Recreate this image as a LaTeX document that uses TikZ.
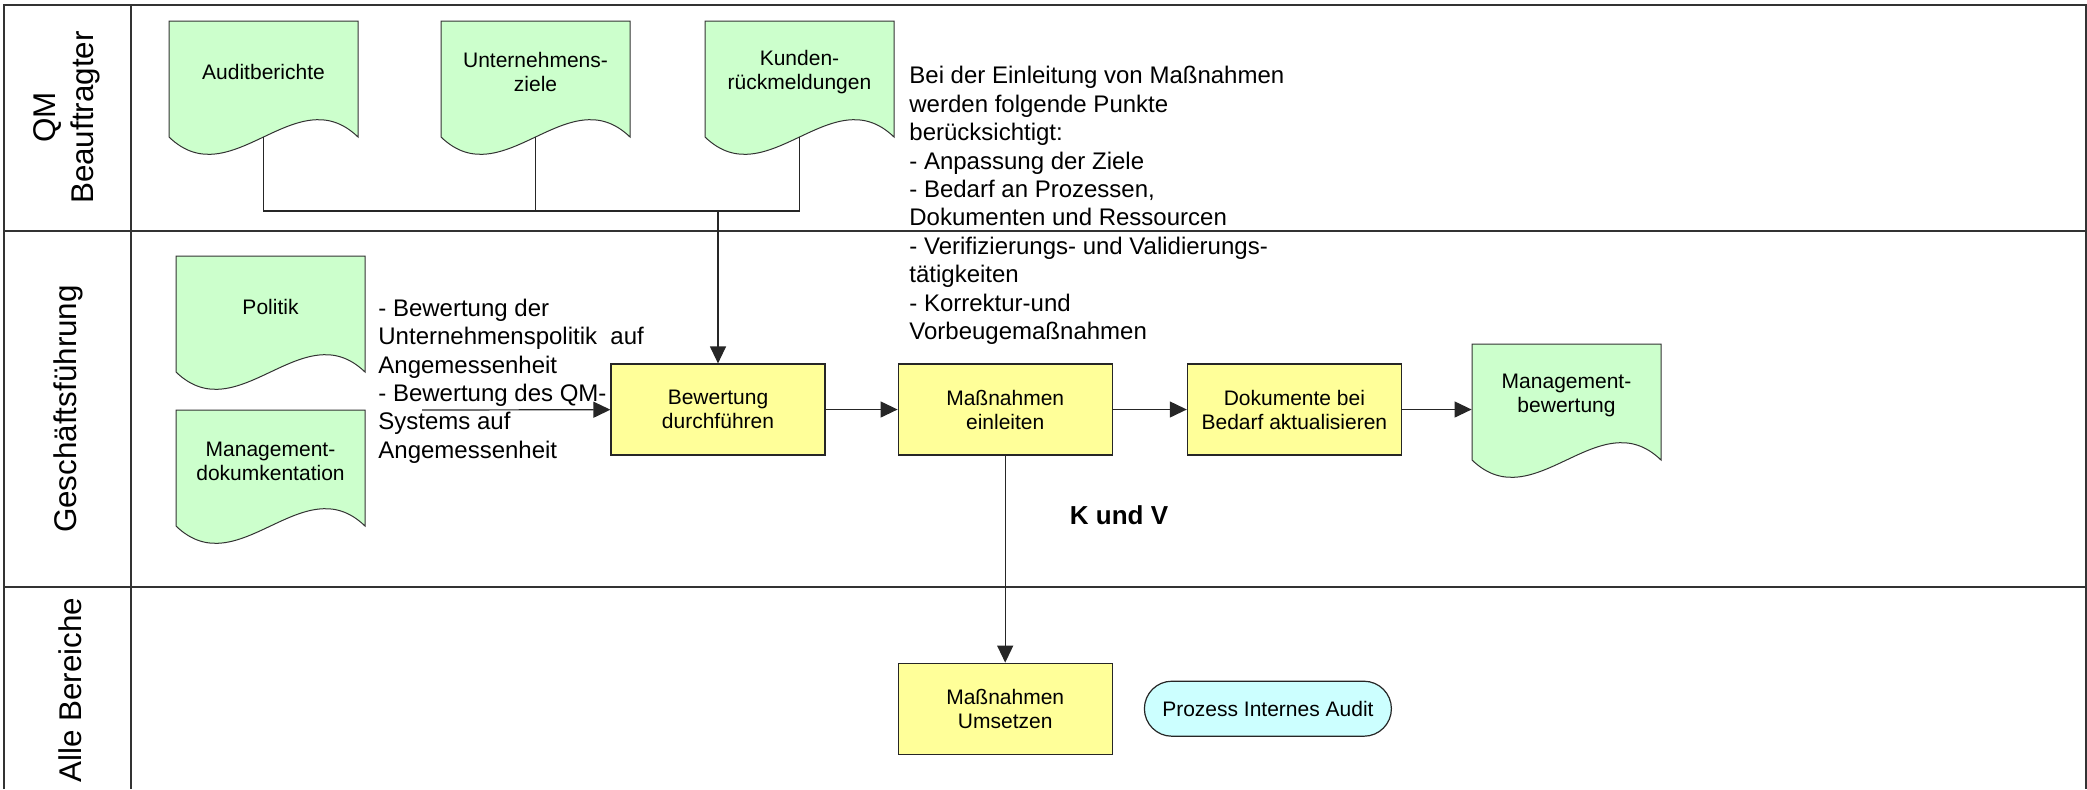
\documentclass[tikz,border=0pt]{standalone}
\usepackage{fontspec}
\setmainfont{Liberation Sans}
\usetikzlibrary{arrows.meta,calc,positioning}
\definecolor{docgreen}{RGB}{204,255,204}
\definecolor{stepyellow}{RGB}{255,255,153}
\definecolor{refcyan}{RGB}{204,255,255}
\tikzset{
  lane/.style={line width=1pt,draw=black!80},
  lanelabel/.style={rotate=90,align=center,inner sep=0pt,font=\fontsize{15.7}{19}\selectfont},
  docshape/.style={fill=docgreen,draw=black!80,line width=0.5pt},
  doctext/.style={inner sep=0pt,minimum width=94.5pt,align=center,font=\fontsize{10.5}{12}\selectfont},
  stepbox/.style={draw=black!85,fill=stepyellow,line width=0.6pt,minimum width=107pt,minimum height=45.5pt,inner sep=0pt,align=center,font=\fontsize{10.5}{12}\selectfont},
  refbox/.style={draw=black!85,fill=refcyan,line width=0.6pt,rounded corners=13.75pt,minimum width=123.5pt,minimum height=27.5pt,inner sep=0pt,font=\fontsize{10.5}{12}\selectfont},
  note/.style={inner sep=0pt,align=left,anchor=north west,font=\fontsize{12}{14.2}\selectfont},
  link/.style={draw=black!85,line width=0.6pt},
  flow/.style={link,-{Triangle[length=8.5pt,width=8pt]}},
}
% document symbol: name, top left corner, text
\newcommand{\docnode}[3]{%
  \filldraw[docshape] #2 -- ++(0,-1.16) .. controls +(0.62,-0.6) and +(-0.62,0.6) .. ++(1.89,0) -- ++(0,1.16) -- cycle;
  \node[doctext] (#1) at ($#2+(0.945,-0.51)$) {#3};
  \coordinate (#1-out) at ($#2+(0.945,-1.16)$);
}

\begin{document}
\begin{tikzpicture}[x=50pt,y=50pt]
\useasboundingbox (0,0) rectangle (20.87,-7.89);
% swimlanes
\draw[lane] (0.045,-7.89) |- (20.855,-0.05) -- (20.855,-7.89);
\draw[lane] (0.045,-2.31) -- (20.855,-2.31);
\draw[lane] (0.045,-5.87) -- (20.855,-5.87);
\draw[lane] (1.31,-0.05) -- (1.31,-7.89);
\node[lanelabel] (qm) at (0.665,-1.175) {QM\\Beauftragter};
\node[lanelabel] (gf) at (0.68,-4.09) {Geschäftsführung};
\node[lanelabel] (alle) at (0.70,-6.90) {Alle Bereiche};

% inputs
\docnode{audit}{(1.69,-0.21)}{Auditberichte}
\docnode{ziele}{(4.41,-0.21)}{Unternehmens-\\ziele}
\docnode{kunden}{(7.05,-0.21)}{Kunden-\\rückmeldungen}
\docnode{politik}{(1.76,-2.56)}{Politik}
\docnode{mdoku}{(1.76,-4.10)}{Management-\\dokumkentation}

% process steps
\node[stepbox] (bew) at (7.18,-4.095) {Bewertung\\durchführen};
\node[stepbox,right=36pt of bew] (mass) {Maßnahmen\\einleiten};
\node[stepbox,right=37pt of mass] (doku) {Dokumente bei\\Bedarf aktualisieren};
\docnode{mbew}{(14.72,-3.44)}{Management-\\bewertung}
\node[stepbox,below=103.5pt of mass] (ums) {Maßnahmen\\Umsetzen};
\node[refbox,right=15.5pt of ums] (intaudit) {Prozess Internes Audit};

\node[font=\bfseries\fontsize{13}{15}\selectfont] (kv) at (11.19,-5.15) {K und V};
\node[note] (bewnote) at (3.78,-2.985) {- Bewertung der\\Unternehmenspolitik~ auf\\Angemessenheit\\- Bewertung des QM-\\Systems auf\\Angemessenheit};
\node[note] (massnote) at (9.09,-0.66) {Bei der Einleitung von Maßnahmen\\werden folgende Punkte\\berücksichtigt:\\- Anpassung der Ziele\\- Bedarf an Prozessen,\\Dokumenten und Ressourcen\\- Verifizierungs- und Validierungs-\\tätigkeiten\\- Korrektur-und\\Vorbeugemaßnahmen};

% connectors
\coordinate (merge) at (7.18,-2.11);
\coordinate (policyin) at (4.22,-4.10);
\draw[link] (audit-out) |- (merge);
\draw[link] (ziele-out) |- (merge);
\draw[link] (kunden-out) |- (merge);
\draw[flow] (merge) -- (bew);
\draw[flow] (policyin) -- (bew);
\draw[flow] (bew) -- (mass);
\draw[flow] (mass) -- (doku);
\draw[flow] (doku) -- (doku -| mbew.west);
\draw[flow] (mass) -- (ums);
\end{tikzpicture}
\end{document}
